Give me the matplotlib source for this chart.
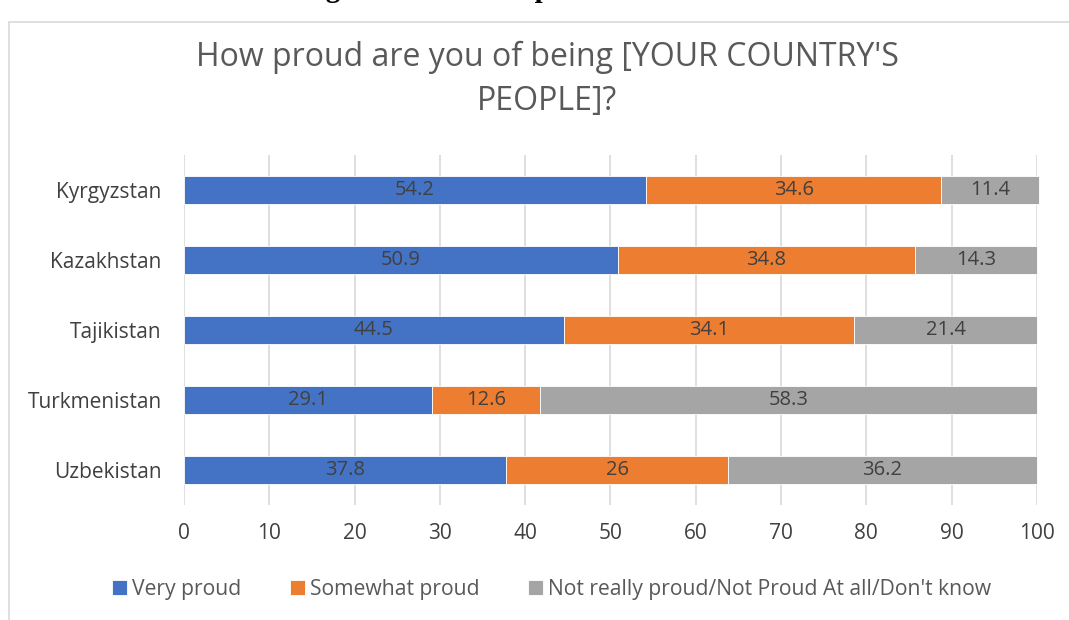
import matplotlib
matplotlib.use("Agg")
import matplotlib.pyplot as plt
from matplotlib.patches import Rectangle

plt.rcParams['font.family'] = ['Open Sans', 'DejaVu Sans']

countries = ['Kyrgyzstan', 'Kazakhstan', 'Tajikistan', 'Turkmenistan', 'Uzbekistan']
very_proud = [54.2, 50.9, 44.5, 29.1, 37.8]
somewhat_proud = [34.6, 34.8, 34.1, 12.6, 26]
not_proud = [11.4, 14.3, 21.4, 58.3, 36.2]
series_names = ['Very proud', 'Somewhat proud',
                'Not really proud/Not Proud At all/Don\'t know']
colors = ['#4472C4', '#ED7D31', '#A5A5A5']

fig = plt.figure(figsize=(10.69, 6.2), dpi=100)
ax = fig.add_axes([0.1721, 0.1855, 0.7979, 0.5645])

# chart frame
fig.patches.append(Rectangle((0.008, -0.05), 1.2, 1.014, transform=fig.transFigure,
                             fill=False, edgecolor='#d9d9d9', linewidth=1.2))
# caption above the chart, mostly off the page
fig.text(0.512, 1 + 3 / 620, 'Figure 4: National pride in Central Asia', ha='center',
         va='baseline', family='Liberation Serif', fontweight='bold', fontsize=21,
         color='black')

ypos = list(range(len(countries)))
left = [0] * len(countries)
for vals, name, c in zip([very_proud, somewhat_proud, not_proud], series_names, colors):
    ax.barh(ypos, vals, left=left, height=0.4, color=c, label=name,
            edgecolor='white', linewidth=0.6, zorder=3, clip_on=False)
    for y, l, v in zip(ypos, left, vals):
        ax.text(l + v / 2, y, f'{v:g}', ha='center', va='center',
                fontsize=14.5, color='#404040', zorder=4)
    left = [a + b for a, b in zip(left, vals)]

ax.set_yticks(ypos)
ax.set_yticklabels(countries, fontsize=15, color='#404040')
ax.set_ylim(4.5, -0.5)
ax.set_xlim(0, 100)
ax.set_xticks(range(0, 101, 10))
ax.tick_params(axis='x', labelsize=15, labelcolor='#404040', length=0, pad=13)
ax.tick_params(axis='y', length=0, pad=16)
ax.grid(axis='x', color='#d9d9d9', linewidth=1.2, zorder=0)
for s in ax.spines.values():
    s.set_visible(False)

fig.text(0.512, 0.872, "How proud are you of being [YOUR COUNTRY'S\nPEOPLE]?",
         ha='center', va='center', fontsize=23, color='#595959',
         linespacing=1.42)

fig.legend(loc='center', bbox_to_anchor=(0.516, 0.05), ncol=3, frameon=False,
           fontsize=15.2, handlelength=0.7, handleheight=0.7, handletextpad=0.25,
           columnspacing=2.3, labelcolor='#595959')

fig.savefig('out.png', dpi=100)
